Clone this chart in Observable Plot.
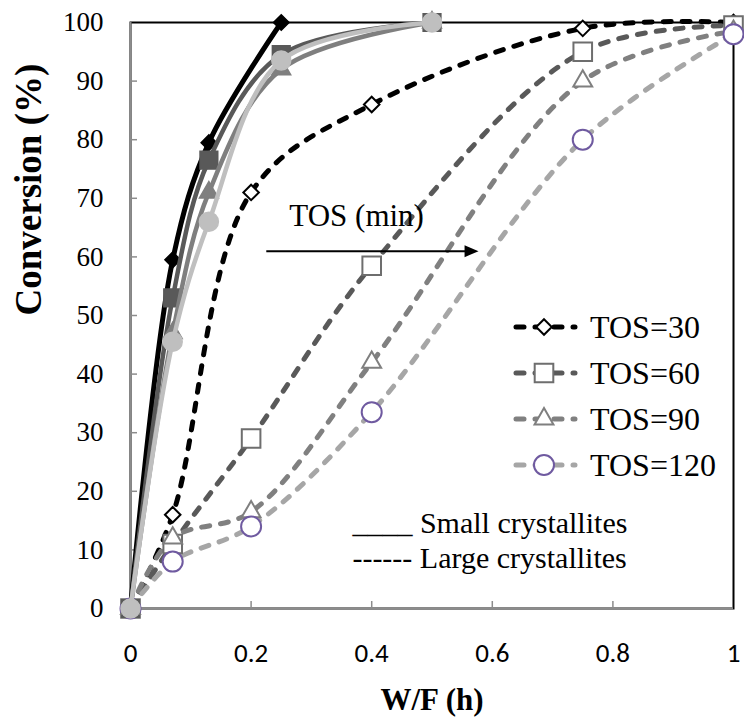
<!DOCTYPE html>
<html><head><meta charset="utf-8">
<script src="https://cdn.jsdelivr.net/npm/d3@7"></script>
<script src="https://cdn.jsdelivr.net/npm/@observablehq/plot@0.6"></script>
<style>
body{margin:0;background:#fff}
#chart{width:744px;height:728px}
#chart svg text{font-family:"Liberation Serif","Times New Roman",serif}
#chart svg g[aria-label="x-axis tick label"] text{font-family:Carlito,Calibri,Lato,"Open Sans",sans-serif}
</style>
</head><body><div id="chart"></div>
<script>
// ---- data ----
const series = ["TOS=30", "TOS=60", "TOS=90", "TOS=120"];
const smallX = [0, 0.07, 0.13, 0.25, 0.5];
const small30 = [0, 59.5, 79.5, 100];
const small60 = [0, 53, 76.5, 94.5, 100];
const small90 = [0, 47, 71, 92, 100];
const small120 = [0, 45.5, 66, 93.5, 100];
const largeX = [0, 0.07, 0.2, 0.4, 0.75, 1];
const large30 = [0, 16, 71, 86, 99, 100];
const large60 = [0, 11, 29, 58.5, 95, 99.5];
const large90 = [0, 12, 16.5, 42, 90, 98.5];
const large120 = [0, 8, 14, 33.5, 80, 98];
const xTicks = [0, 0.2, 0.4, 0.6, 0.8, 1];
const xTickLabels = ["0", "0.2", "0.4", "0.6", "0.8", "1"];
const yTicks = [0, 10, 20, 30, 40, 50, 60, 70, 80, 90, 100];
const xTitle = "W/F (h)";
const yTitle = "Conversion (%)";
const sizeNotes = ["____ Small crystallites", "------ Large crystallites"];
const arrowLabel = "TOS (min)";

// ---- styles ----
const solidColors = ["#000000", "#595959", "#7f7f7f", "#bfbfbf"];
const dashColors = ["#000000", "#595959", "#808080", "#a6a6a6"];
const openStroke = ["#000000", "#6e6e6e", "#7f7f7f", "#6f5aa0"];
const symbols = ["diamond2", "square", "triangle", "circle"];
const radii = [7, 10, 7, 9.5];
const openRadii = [7, 10.5, 7, 10];
const serif = "Liberation Serif, Times New Roman, serif";
const dash = "8,11";

const smallY = [small30, small60, small90, small120];
const largeY = [large30, large60, large90, large120];
const rows = [];
series.forEach((s, i) => {
  smallY[i].forEach((v, j) => rows.push({tos: s, i, size: "small", x: smallX[j], y: v}));
  largeY[i].forEach((v, j) => rows.push({tos: s, i, size: "large", x: largeX[j], y: v}));
});

const W = 744, H = 728, mL = 130, mR = 11, mT = 22, mB = 120;
const pw = W - mL - mR, ph = H - mT - mB;

const marks = [
  Plot.frame({stroke: "black", strokeWidth: 2}),
  Plot.gridY(yTicks.slice(1, -1), {stroke: "#8c8c8c", strokeOpacity: 1, strokeWidth: 1.5, insetRight: pw - 7}),
  Plot.gridX(xTicks.slice(1, -1), {stroke: "#8c8c8c", strokeOpacity: 1, strokeWidth: 1.5, insetTop: ph - 7}),
  Plot.ruleX([0], {stroke: "#8c8c8c", strokeWidth: 2}),
  Plot.ruleY([0], {stroke: "#8c8c8c", strokeWidth: 2.5}),
  Plot.axisY(yTicks, {tickSize: 0, tickPadding: 27, fontSize: 27, label: null}),
  Plot.axisX(xTicks, {tickSize: 0, tickPadding: 34, fontSize: 27, label: null,
    tickFormat: d => xTickLabels[xTicks.indexOf(d)]}),
  Plot.text([xTitle], {frameAnchor: "bottom", dy: 92, lineAnchor: "middle", fontSize: 31, fontWeight: "bold"}),
  Plot.text([yTitle], {frameAnchor: "left", dx: -101, rotate: -90, fontSize: 37, fontWeight: "bold"})
];

// large crystallites (dashed, open markers)
series.forEach((s, i) => {
  const d = rows.filter(r => r.i === i && r.size === "large");
  marks.push(Plot.line(d, {x: "x", y: "y", stroke: dashColors[i], strokeWidth: 5, strokeDasharray: dash,
    strokeLinecap: "round", curve: "catmull-rom"}));
});
series.forEach((s, i) => {
  const d = rows.filter(r => r.i === i && r.size === "large");
  marks.push(Plot.dot(d, {x: "x", y: "y", symbol: symbols[i], r: openRadii[i], fill: "white",
    stroke: openStroke[i], strokeWidth: 2}));
});
// small crystallites (solid, filled markers)
series.forEach((s, i) => {
  const d = rows.filter(r => r.i === i && r.size === "small");
  marks.push(Plot.line(d, {x: "x", y: "y", stroke: solidColors[i], strokeWidth: i === 0 ? 5 : 4.5, curve: "catmull-rom"}));
  marks.push(Plot.dot(d, {x: "x", y: "y", symbol: symbols[i], r: radii[i], fill: solidColors[i], stroke: solidColors[i]}));
});

// annotations (in data units)
marks.push(Plot.text([arrowLabel], {x: 0.375, y: 67, fontSize: 31}));
marks.push(Plot.text(sizeNotes, {x: 0.368, y: (d, i) => [14.6, 8.6][i], textAnchor: "start", fontSize: 30}));

const chart = Plot.plot({
  width: W, height: H,
  marginLeft: mL, marginRight: mR, marginTop: mT, marginBottom: mB,
  x: {domain: [0, 1]},
  y: {domain: [0, 100]},
  style: {fontFamily: serif, background: "white", overflow: "visible"},
  marks
});
document.getElementById("chart").append(chart);

// arrow annotation + series legend
const sx = v => chart.scale("x").apply(v), sy = v => chart.scale("y").apply(v);
const svg = d3.select(chart);
const ax1 = sx(0.226), ax2 = sx(0.578), ay = sy(60.9);
svg.append("line").attr("x1", ax1).attr("x2", ax2 - 12).attr("y1", ay).attr("y2", ay)
  .attr("stroke", "black").attr("stroke-width", 2);
svg.append("path").attr("d", `M${ax2},${ay}L${ax2 - 14},${ay - 6}L${ax2 - 14},${ay + 6}Z`).attr("fill", "black");

const symMap = {diamond2: d3.symbolDiamond2, square: d3.symbolSquare, triangle: d3.symbolTriangle, circle: d3.symbolCircle};
const legY0 = 327, legDy = 46, legX1 = 513, legX2 = 575, legTx = 590;
series.forEach((s, i) => {
  const y = legY0 + i * legDy;
  const g = svg.append("g").attr("aria-label", "legend");
  g.append("line").attr("x1", legX1).attr("x2", legX2).attr("y1", y).attr("y2", y)
    .attr("stroke", dashColors[i]).attr("stroke-width", 5).attr("stroke-dasharray", "8,11").attr("stroke-linecap", "round")
    .attr("stroke-dashoffset", -3);
  const r = openRadii[i];
  g.append("path").attr("d", d3.symbol(symMap[symbols[i]], Math.PI * r * r)())
    .attr("transform", `translate(${(legX1 + legX2) / 2},${y})`)
    .attr("fill", "white").attr("stroke", openStroke[i]).attr("stroke-width", 2);
  g.append("text").attr("x", legTx).attr("y", y).attr("dy", "0.35em").attr("font-size", 32)
    .attr("text-anchor", "start").text(s);
});
</script>
</body></html>
